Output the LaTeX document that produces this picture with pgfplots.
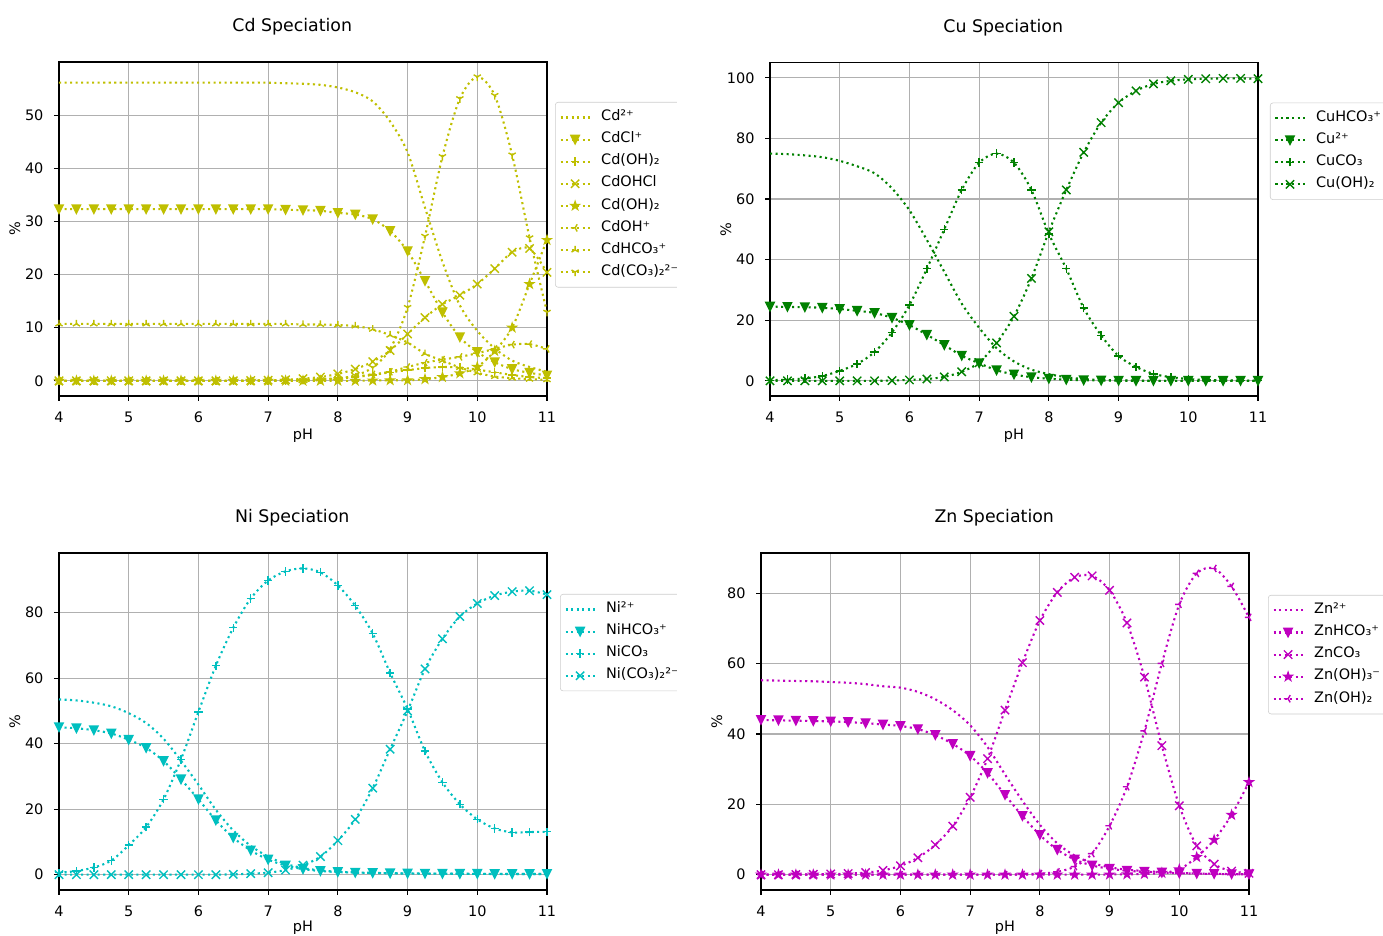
\documentclass[border=0pt]{standalone}
\usepackage{fontspec}
\setmainfont{DejaVu Sans}
\usepackage{pgfplots}
\usepackage{pgfplotstable}
\pgfplotsset{compat=1.18}

\definecolor{cdc}{RGB}{191,191,0}
\definecolor{cuc}{RGB}{0,128,0}
\definecolor{nic}{RGB}{0,191,191}
\definecolor{znc}{RGB}{191,0,191}

\pgfdeclareplotmark{tdown}{%
  \pgfpathmoveto{\pgfpoint{0pt}{-\pgfplotmarksize}}%
  \pgfpathlineto{\pgfpoint{-\pgfplotmarksize}{\pgfplotmarksize}}%
  \pgfpathlineto{\pgfpoint{\pgfplotmarksize}{\pgfplotmarksize}}%
  \pgfpathclose\pgfusepathqfillstroke}
\pgfdeclareplotmark{mplus}{%
  \pgfpathmoveto{\pgfpoint{-\pgfplotmarksize}{0pt}}\pgfpathlineto{\pgfpoint{\pgfplotmarksize}{0pt}}%
  \pgfpathmoveto{\pgfpoint{0pt}{-\pgfplotmarksize}}\pgfpathlineto{\pgfpoint{0pt}{\pgfplotmarksize}}%
  \pgfusepathqstroke}
\pgfdeclareplotmark{mx}{%
  \pgfpathmoveto{\pgfpoint{-\pgfplotmarksize}{-\pgfplotmarksize}}\pgfpathlineto{\pgfpoint{\pgfplotmarksize}{\pgfplotmarksize}}%
  \pgfpathmoveto{\pgfpoint{-\pgfplotmarksize}{\pgfplotmarksize}}\pgfpathlineto{\pgfpoint{\pgfplotmarksize}{-\pgfplotmarksize}}%
  \pgfusepathqstroke}
\pgfdeclareplotmark{fstar}{%
  \pgfpathmoveto{\pgfpointpolar{90}{\pgfplotmarksize}}%
  \pgfpathlineto{\pgfpointpolar{126}{0.382\pgfplotmarksize}}%
  \pgfpathlineto{\pgfpointpolar{162}{\pgfplotmarksize}}%
  \pgfpathlineto{\pgfpointpolar{198}{0.382\pgfplotmarksize}}%
  \pgfpathlineto{\pgfpointpolar{234}{\pgfplotmarksize}}%
  \pgfpathlineto{\pgfpointpolar{270}{0.382\pgfplotmarksize}}%
  \pgfpathlineto{\pgfpointpolar{306}{\pgfplotmarksize}}%
  \pgfpathlineto{\pgfpointpolar{342}{0.382\pgfplotmarksize}}%
  \pgfpathlineto{\pgfpointpolar{18}{\pgfplotmarksize}}%
  \pgfpathlineto{\pgfpointpolar{54}{0.382\pgfplotmarksize}}%
  \pgfpathclose\pgfusepathqfillstroke}
\pgfdeclareplotmark{tridown}{%
  \pgfpathmoveto{\pgfpointorigin}\pgfpathlineto{\pgfpoint{0pt}{-\pgfplotmarksize}}%
  \pgfpathmoveto{\pgfpointorigin}\pgfpathlineto{\pgfpointpolar{30}{\pgfplotmarksize}}%
  \pgfpathmoveto{\pgfpointorigin}\pgfpathlineto{\pgfpointpolar{150}{\pgfplotmarksize}}%
  \pgfusepathqstroke}
\pgfdeclareplotmark{triup}{%
  \pgfpathmoveto{\pgfpointorigin}\pgfpathlineto{\pgfpoint{0pt}{\pgfplotmarksize}}%
  \pgfpathmoveto{\pgfpointorigin}\pgfpathlineto{\pgfpointpolar{210}{\pgfplotmarksize}}%
  \pgfpathmoveto{\pgfpointorigin}\pgfpathlineto{\pgfpointpolar{330}{\pgfplotmarksize}}%
  \pgfusepathqstroke}
\pgfdeclareplotmark{trileft}{%
  \pgfpathmoveto{\pgfpointorigin}\pgfpathlineto{\pgfpoint{-\pgfplotmarksize}{0pt}}%
  \pgfpathmoveto{\pgfpointorigin}\pgfpathlineto{\pgfpointpolar{60}{\pgfplotmarksize}}%
  \pgfpathmoveto{\pgfpointorigin}\pgfpathlineto{\pgfpointpolar{300}{\pgfplotmarksize}}%
  \pgfusepathqstroke}

\tikzset{dl/.style={line width=1.5pt, dash pattern=on 1.5pt off 2.475pt, smooth, mark size=3pt, mark options={solid, line width=1pt}}}

\pgfplotsset{
  sp/.style={
    scale only axis, width=351.36pt,
    xmin=4, xmax=11, xtick={4,...,11},
    grid=major, major grid style={color=black!31, line width=0.8pt},
    axis line style={line width=0.8pt},
    tick style={black, line width=0.8pt}, tick align=outside, major tick length=3.6pt,
    xtick pos=bottom, ytick pos=left,
    tick label style={font=\fontsize{10.4}{12}\selectfont},
    /pgf/number format/assume math mode=true,
    xticklabel style={inner sep=0pt, anchor=north, yshift=-7.4pt},
    yticklabel style={inner sep=0pt, anchor=east, xshift=-7.4pt},
    xlabel={pH}, ylabel={\%},
    label style={font=\fontsize{10.4}{12}\selectfont},
    xlabel style={at={(axis description cs:0.5,0)}, anchor=center, yshift=-28.8pt},
    ylabel style={at={(axis description cs:0,0.5)}, anchor=center, yshift=31.7pt},
    title style={font=\fontsize{12.5}{14}\selectfont, at={(axis description cs:0.478,1)}, anchor=center, yshift=19.4pt},
    legend cell align=left,
    legend image code/.code={\draw[mark repeat=2,mark phase=2] plot coordinates {(0pt,0pt) (10.5pt,0pt) (21pt,0pt)};},
    legend style={anchor=north west, draw=black!20, rounded corners=2pt, fill=white,
      font=\fontsize{10.4}{12}\selectfont, inner xsep=3pt, inner ysep=3pt, row sep=0pt,
      nodes={inner xsep=3.5pt, inner ysep=2pt, text height=8.3pt, text depth=3.6pt},
      /tikz/every odd column/.append style={column sep=4pt}},
  }
}

\pgfplotstableread{
ph cd cl oha ohcl ohb oh hco co
4.00 56.1 32.3 0 0 0 0 10.7 0
4.25 56.1 32.3 0 0 0 0 10.7 0
4.50 56.1 32.3 0 0 0 0 10.7 0
4.75 56.1 32.3 0 0 0 0 10.7 0
5.00 56.1 32.3 0 0 0 0 10.7 0
5.25 56.1 32.3 0 0 0 0 10.7 0
5.50 56.1 32.3 0 0 0 0 10.7 0
5.75 56.1 32.3 0 0 0 0 10.7 0
6.00 56.1 32.3 0 0 0 0 10.7 0
6.25 56.1 32.3 0 0 0 0 10.7 0
6.50 56.1 32.3 0 0 0 0 10.7 0
6.75 56.1 32.3 0 0.05 0 0 10.7 0
7.00 56.1 32.3 0 0.1 0 0.05 10.7 0.02
7.25 56.0 32.2 0 0.2 0 0.1 10.7 0.05
7.50 55.9 32.1 0.1 0.4 0 0.2 10.6 0.1
7.75 55.7 32.0 0.2 0.7 0 0.3 10.6 0.2
8.00 55.2 31.6 0.4 1.3 0 0.5 10.5 0.4
8.25 54.3 31.3 0.7 2.2 0 0.8 10.3 1.0
8.50 52.6 30.4 1.1 3.6 0.05 1.2 9.7 2.5
8.75 48.8 28.2 1.6 5.7 0.1 1.7 8.6 6.0
9.00 43.0 24.4 2.0 8.8 0.1 2.6 7.2 13.8
9.25 32.6 18.8 2.4 11.9 0.3 3.4 5.1 27.2
9.50 22.4 12.9 2.6 14.4 0.7 4.0 3.8 42.2
9.75 14.2 8.2 2.5 16.1 1.4 4.5 2.5 53.1
10.00 9.4 5.4 2.1 18.2 2.6 5.2 1.5 57.2
10.25 6.1 3.5 1.6 21.1 5.6 6.0 0.8 53.7
10.50 3.8 2.2 1.1 24.2 10.0 6.8 0.5 42.5
10.75 2.6 1.5 0.7 24.9 18.2 6.9 0.3 26.9
11.00 1.7 1.0 0.5 20.4 26.5 6.0 0.2 12.9
}\cdtab

\pgfplotstableread{
ph hco cu co oh
4.00 75.0 24.5 0.2 0
4.25 74.8 24.4 0.4 0
4.50 74.4 24.3 0.8 0
4.75 73.8 24.1 1.6 0
5.00 72.6 23.7 3.3 0
5.25 70.8 23.1 5.6 0
5.50 68.5 22.4 9.5 0
5.75 63.5 20.8 16.0 0.1
6.00 56.3 18.4 25.0 0.3
6.25 46.5 15.2 37.0 0.6
6.50 36.0 11.8 50.0 1.3
6.75 25.5 8.3 63.0 3.0
7.00 17.5 5.8 72.0 6.0
7.25 10.8 3.5 75.0 12.5
7.50 6.4 2.1 72.0 21.3
7.75 3.7 1.2 63.0 33.8
8.00 2.2 0.7 48.5 49.2
8.25 1.2 0.4 37.0 63.0
8.50 0.6 0.2 24.0 75.4
8.75 0.3 0.1 15.0 85.2
9.00 0.15 0.05 8.2 91.8
9.25 0.1 0 4.6 95.7
9.50 0 0 2.3 98.0
9.75 0 0 1.2 99.0
10.00 0 0 0.6 99.5
10.25 0 0 0.3 99.7
10.50 0 0 0.2 99.8
10.75 0 0 0.1 99.8
11.00 0 0 0.1 99.7
}\cutab

\pgfplotstableread{
ph ni hco co cot
4.00 53.5 45.0 0.6 0
4.25 53.2 44.7 1.1 0
4.50 52.5 44.1 2.2 0
4.75 51.4 43.1 4.3 0
5.00 49.3 41.2 9.0 0
5.25 46.3 38.7 14.5 0
5.50 41.5 34.7 23.0 0
5.75 34.8 29.1 35.2 0
6.00 27.5 23.0 49.7 0
6.25 19.8 16.6 63.8 0
6.50 13.5 11.3 75.4 0.1
6.75 8.8 7.4 84.3 0.3
7.00 5.5 4.6 89.8 0.6
7.25 3.3 2.8 92.6 1.4
7.50 2.0 1.7 93.5 2.9
7.75 1.3 1.1 92.3 5.5
8.00 0.9 0.8 88.3 10.4
8.25 0.7 0.6 82.1 16.9
8.50 0.55 0.5 73.6 26.4
8.75 0.45 0.4 61.6 38.3
9.00 0.4 0.35 50.6 50.0
9.25 0.35 0.3 37.7 62.8
9.50 0.3 0.3 28.2 72.0
9.75 0.3 0.25 21.5 78.8
10.00 0.25 0.25 16.9 82.8
10.25 0.25 0.2 14.1 85.2
10.50 0.2 0.2 12.9 86.4
10.75 0.2 0.2 13.0 86.7
11.00 0.2 0.2 13.1 85.5
}\nitab

\pgfplotstableread{
ph zn hco co ohth ohtw
4.00 55.3 44.0 0 0 0
4.25 55.2 43.9 0 0 0
4.50 55.1 43.8 0.05 0 0
4.75 55.0 43.7 0.1 0 0
5.00 54.8 43.6 0.2 0 0
5.25 54.6 43.4 0.3 0 0
5.50 54.2 43.1 0.6 0 0
5.75 53.6 42.7 1.2 0 0
6.00 53.2 42.3 2.5 0 0
6.25 52.0 41.4 4.8 0 0
6.50 49.9 39.7 8.5 0 0
6.75 46.8 37.2 13.8 0 0
7.00 42.5 33.8 22.0 0 0
7.25 36.3 28.9 33.0 0 0
7.50 28.5 22.7 46.8 0 0
7.75 21.0 16.7 60.3 0 0.1
8.00 14.2 11.3 72.3 0 0.3
8.25 8.9 7.1 80.3 0 0.8
8.50 5.4 4.3 84.6 0 2.3
8.75 3.3 2.6 85.0 0 6.0
9.00 2.1 1.7 80.9 0.05 13.9
9.25 1.4 1.1 71.6 0.1 25.0
9.50 1.05 0.85 56.2 0.2 40.9
9.75 0.75 0.6 36.7 0.5 60.1
10.00 0.5 0.4 19.6 1.5 76.9
10.25 0.35 0.3 8.2 5.0 85.7
10.50 0.25 0.2 3.0 9.9 87.1
10.75 0.15 0.15 1.0 17.0 82.0
11.00 0.1 0.1 0.4 26.3 73.2
}\zntab

\begin{document}
\begin{tikzpicture}
% Cd
\begin{scope}
\clip (0pt,300pt) rectangle (487.4pt,673.92pt);
\begin{axis}[sp, at={(42.48pt,388.8pt)}, anchor=south west, height=240.48pt,
  ymin=-2.86, ymax=60.0, ytick={0,10,...,50}, title={Cd Speciation},
  legend style={at={(1,1)}, xshift=5.8pt, yshift=-28.8pt}]
\addplot[cdc, dl, mark=none] table[x=ph,y=cd]{\cdtab};
\addlegendentry{Cd²⁺}
\addplot[cdc, dl, mark=tdown] table[x=ph,y=cl]{\cdtab};
\addlegendentry{CdCl⁺}
\addplot[cdc, dl, mark=mplus] table[x=ph,y=oha]{\cdtab};
\addlegendentry{Cd(OH)₂}
\addplot[cdc, dl, mark=mx] table[x=ph,y=ohcl]{\cdtab};
\addlegendentry{CdOHCl}
\addplot[cdc, dl, mark=fstar] table[x=ph,y=ohb]{\cdtab};
\addlegendentry{Cd(OH)₂}
\addplot[cdc, dl, mark=trileft] table[x=ph,y=oh]{\cdtab};
\addlegendentry{CdOH⁺}
\addplot[cdc, dl, mark=triup] table[x=ph,y=hco]{\cdtab};
\addlegendentry{CdHCO₃⁺}
\addplot[cdc, dl, mark=tridown] table[x=ph,y=co]{\cdtab};
\addlegendentry{Cd(CO₃)₂²⁻}
\end{axis}
\end{scope}
% Cu
\begin{axis}[sp, at={(554.4pt,388.8pt)}, anchor=south west, height=240pt,
  ymin=-5, ymax=105, ytick={0,20,...,100}, title={Cu Speciation},
  legend style={at={(1,1)}, xshift=8.6pt, yshift=-28.8pt}]
\addplot[cuc, dl, mark=none] table[x=ph,y=hco]{\cutab};
\addlegendentry{CuHCO₃⁺}
\addplot[cuc, dl, mark=tdown] table[x=ph,y=cu]{\cutab};
\addlegendentry{Cu²⁺}
\addplot[cuc, dl, mark=mplus] table[x=ph,y=co]{\cutab};
\addlegendentry{CuCO₃}
\addplot[cuc, dl, mark=mx] table[x=ph,y=oh]{\cutab};
\addlegendentry{Cu(OH)₂}
\end{axis}
% Ni
\begin{scope}
\clip (0pt,0pt) rectangle (487.4pt,330pt);
\begin{axis}[sp, at={(42.48pt,33.12pt)}, anchor=south west, height=242.64pt,
  ymin=-4.68, ymax=98.2, ytick={0,20,...,80}, title={Ni Speciation},
  xlabel style={yshift=1.4pt},
  legend style={at={(1,1)}, xshift=9.4pt, yshift=-29.5pt}]
\addplot[nic, dl, mark=none] table[x=ph,y=ni]{\nitab};
\addlegendentry{Ni²⁺}
\addplot[nic, dl, mark=tdown] table[x=ph,y=hco]{\nitab};
\addlegendentry{NiHCO₃⁺}
\addplot[nic, dl, mark=mplus] table[x=ph,y=co]{\nitab};
\addlegendentry{NiCO₃}
\addplot[nic, dl, mark=mx] table[x=ph,y=cot]{\nitab};
\addlegendentry{Ni(CO₃)₂²⁻}
\end{axis}
\end{scope}
% Zn
\begin{axis}[sp, at={(547.92pt,33.12pt)}, anchor=south west, height=242.64pt,
  ymin=-4.36, ymax=91.5, ytick={0,20,...,80}, title={Zn Speciation},
  xlabel style={yshift=1.4pt},
  legend style={at={(1,1)}, xshift=13.7pt, yshift=-30.2pt}]
\addplot[znc, dl, mark=none] table[x=ph,y=zn]{\zntab};
\addlegendentry{Zn²⁺}
\addplot[znc, dl, mark=tdown] table[x=ph,y=hco]{\zntab};
\addlegendentry{ZnHCO₃⁺}
\addplot[znc, dl, mark=mx] table[x=ph,y=co]{\zntab};
\addlegendentry{ZnCO₃}
\addplot[znc, dl, mark=fstar] table[x=ph,y=ohth]{\zntab};
\addlegendentry{Zn(OH)₃⁻}
\addplot[znc, dl, mark=trileft] table[x=ph,y=ohtw]{\zntab};
\addlegendentry{Zn(OH)₂}
\end{axis}
\pgfresetboundingbox
\path[use as bounding box] (0pt,0pt) rectangle (995.76pt,673.92pt);
\end{tikzpicture}
\end{document}
